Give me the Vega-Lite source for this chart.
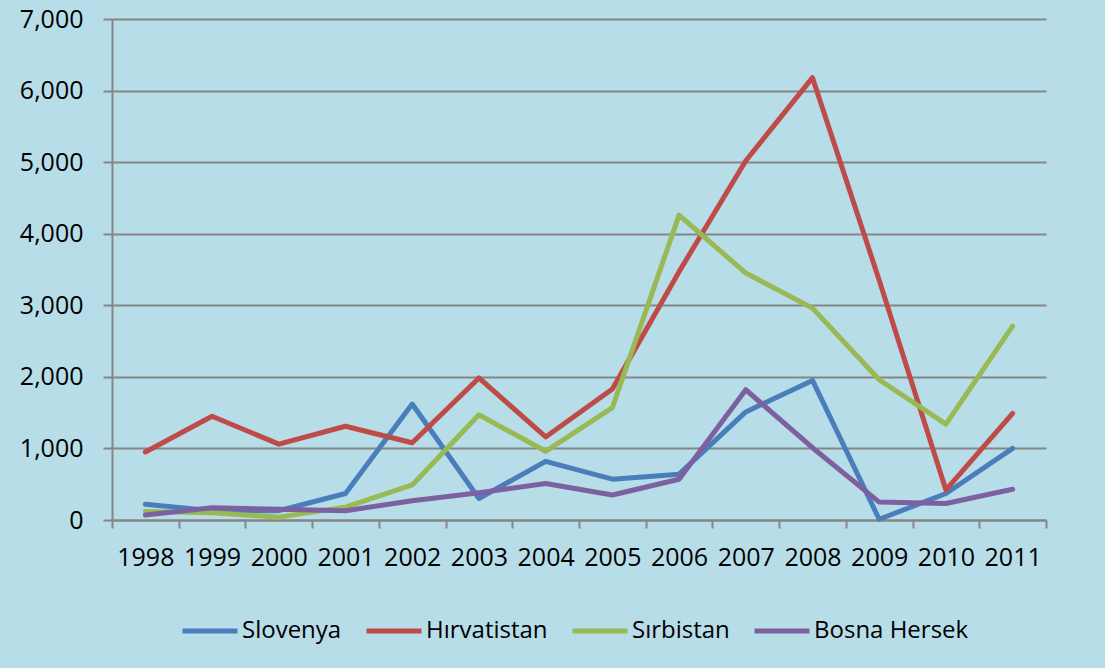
{
  "$schema": "https://vega.github.io/schema/vega-lite/v6.json",
  "width": 934,
  "height": 501,
  "autosize": {"type": "none"},
  "padding": {"left": 112, "top": 19, "right": 59, "bottom": 148},
  "background": "#B7DDE8",
  "data": {
    "values": [
      {"year": "1998", "country": "Slovenya", "value": 220},
      {"year": "1999", "country": "Slovenya", "value": 130},
      {"year": "2000", "country": "Slovenya", "value": 130},
      {"year": "2001", "country": "Slovenya", "value": 370},
      {"year": "2002", "country": "Slovenya", "value": 1620},
      {"year": "2003", "country": "Slovenya", "value": 300},
      {"year": "2004", "country": "Slovenya", "value": 820},
      {"year": "2005", "country": "Slovenya", "value": 570},
      {"year": "2006", "country": "Slovenya", "value": 640},
      {"year": "2007", "country": "Slovenya", "value": 1510},
      {"year": "2008", "country": "Slovenya", "value": 1950},
      {"year": "2009", "country": "Slovenya", "value": 10},
      {"year": "2010", "country": "Slovenya", "value": 370},
      {"year": "2011", "country": "Slovenya", "value": 1000},
      {"year": "1998", "country": "Hırvatistan", "value": 950},
      {"year": "1999", "country": "Hırvatistan", "value": 1450},
      {"year": "2000", "country": "Hırvatistan", "value": 1060},
      {"year": "2001", "country": "Hırvatistan", "value": 1310},
      {"year": "2002", "country": "Hırvatistan", "value": 1080},
      {"year": "2003", "country": "Hırvatistan", "value": 1985},
      {"year": "2004", "country": "Hırvatistan", "value": 1160},
      {"year": "2005", "country": "Hırvatistan", "value": 1830},
      {"year": "2006", "country": "Hırvatistan", "value": 3470},
      {"year": "2007", "country": "Hırvatistan", "value": 5020},
      {"year": "2008", "country": "Hırvatistan", "value": 6180},
      {"year": "2009", "country": "Hırvatistan", "value": 3350},
      {"year": "2010", "country": "Hırvatistan", "value": 420},
      {"year": "2011", "country": "Hırvatistan", "value": 1490},
      {"year": "1998", "country": "Sırbistan", "value": 120},
      {"year": "1999", "country": "Sırbistan", "value": 100},
      {"year": "2000", "country": "Sırbistan", "value": 40},
      {"year": "2001", "country": "Sırbistan", "value": 180},
      {"year": "2002", "country": "Sırbistan", "value": 490},
      {"year": "2003", "country": "Sırbistan", "value": 1470},
      {"year": "2004", "country": "Sırbistan", "value": 960},
      {"year": "2005", "country": "Sırbistan", "value": 1570},
      {"year": "2006", "country": "Sırbistan", "value": 4260},
      {"year": "2007", "country": "Sırbistan", "value": 3450},
      {"year": "2008", "country": "Sırbistan", "value": 2960},
      {"year": "2009", "country": "Sırbistan", "value": 1960},
      {"year": "2010", "country": "Sırbistan", "value": 1340},
      {"year": "2011", "country": "Sırbistan", "value": 2710},
      {"year": "1998", "country": "Bosna Hersek", "value": 70},
      {"year": "1999", "country": "Bosna Hersek", "value": 170},
      {"year": "2000", "country": "Bosna Hersek", "value": 150},
      {"year": "2001", "country": "Bosna Hersek", "value": 130},
      {"year": "2002", "country": "Bosna Hersek", "value": 270},
      {"year": "2003", "country": "Bosna Hersek", "value": 380},
      {"year": "2004", "country": "Bosna Hersek", "value": 510},
      {"year": "2005", "country": "Bosna Hersek", "value": 350},
      {"year": "2006", "country": "Bosna Hersek", "value": 570},
      {"year": "2007", "country": "Bosna Hersek", "value": 1820},
      {"year": "2008", "country": "Bosna Hersek", "value": 1010},
      {"year": "2009", "country": "Bosna Hersek", "value": 250},
      {"year": "2010", "country": "Bosna Hersek", "value": 230},
      {"year": "2011", "country": "Bosna Hersek", "value": 430}
    ]
  },
  "mark": {"type": "line", "strokeWidth": 5, "strokeCap": "round", "strokeJoin": "round"},
  "encoding": {
    "x": {
      "field": "year",
      "type": "ordinal",
      "bandPosition": 0.5,
      "scale": {"type": "band", "paddingInner": 0, "paddingOuter": 0},
      "axis": {
        "title": null,
        "labelAngle": 0,
        "tickBand": "extent",
        "tickSize": 8,
        "tickWidth": 2,
        "tickColor": "#868686",
        "domainColor": "#868686",
        "domainWidth": 2,
        "grid": false,
        "labelPadding": 17,
        "labelFont": "Open Sans",
        "labelFontSize": 25,
        "labelColor": "#000000"
      }
    },
    "y": {
      "field": "value",
      "type": "quantitative",
      "scale": {"domain": [0, 7000], "nice": false},
      "axis": {
        "title": null,
        "values": [0, 1000, 2000, 3000, 4000, 5000, 6000, 7000],
        "format": ",.0f",
        "grid": true,
        "gridColor": "#868686",
        "gridWidth": 2,
        "tickSize": 9,
        "tickWidth": 2,
        "tickColor": "#868686",
        "domainColor": "#868686",
        "domainWidth": 2,
        "labelPadding": 20,
        "labelFont": "Open Sans",
        "labelFontSize": 25,
        "labelColor": "#000000"
      }
    },
    "color": {
      "field": "country",
      "type": "nominal",
      "sort": ["Slovenya", "Hırvatistan", "Sırbistan", "Bosna Hersek"],
      "scale": {
        "domain": ["Slovenya", "Hırvatistan", "Sırbistan", "Bosna Hersek"],
        "range": ["#4A7EBB", "#BE4B48", "#98B954", "#7D60A0"]
      },
      "legend": {
        "title": null,
        "orient": "none",
        "legendX": 68,
        "legendY": 582,
        "direction": "horizontal",
        "symbolType": "stroke",
        "symbolSize": 3025,
        "symbolStrokeWidth": 5,
        "labelFont": "Open Sans",
        "labelFontSize": 24,
        "labelColor": "#000000",
        "labelOffset": 2,
        "columnPadding": 14
      }
    }
  },
  "config": {"view": {"stroke": null}}
}
